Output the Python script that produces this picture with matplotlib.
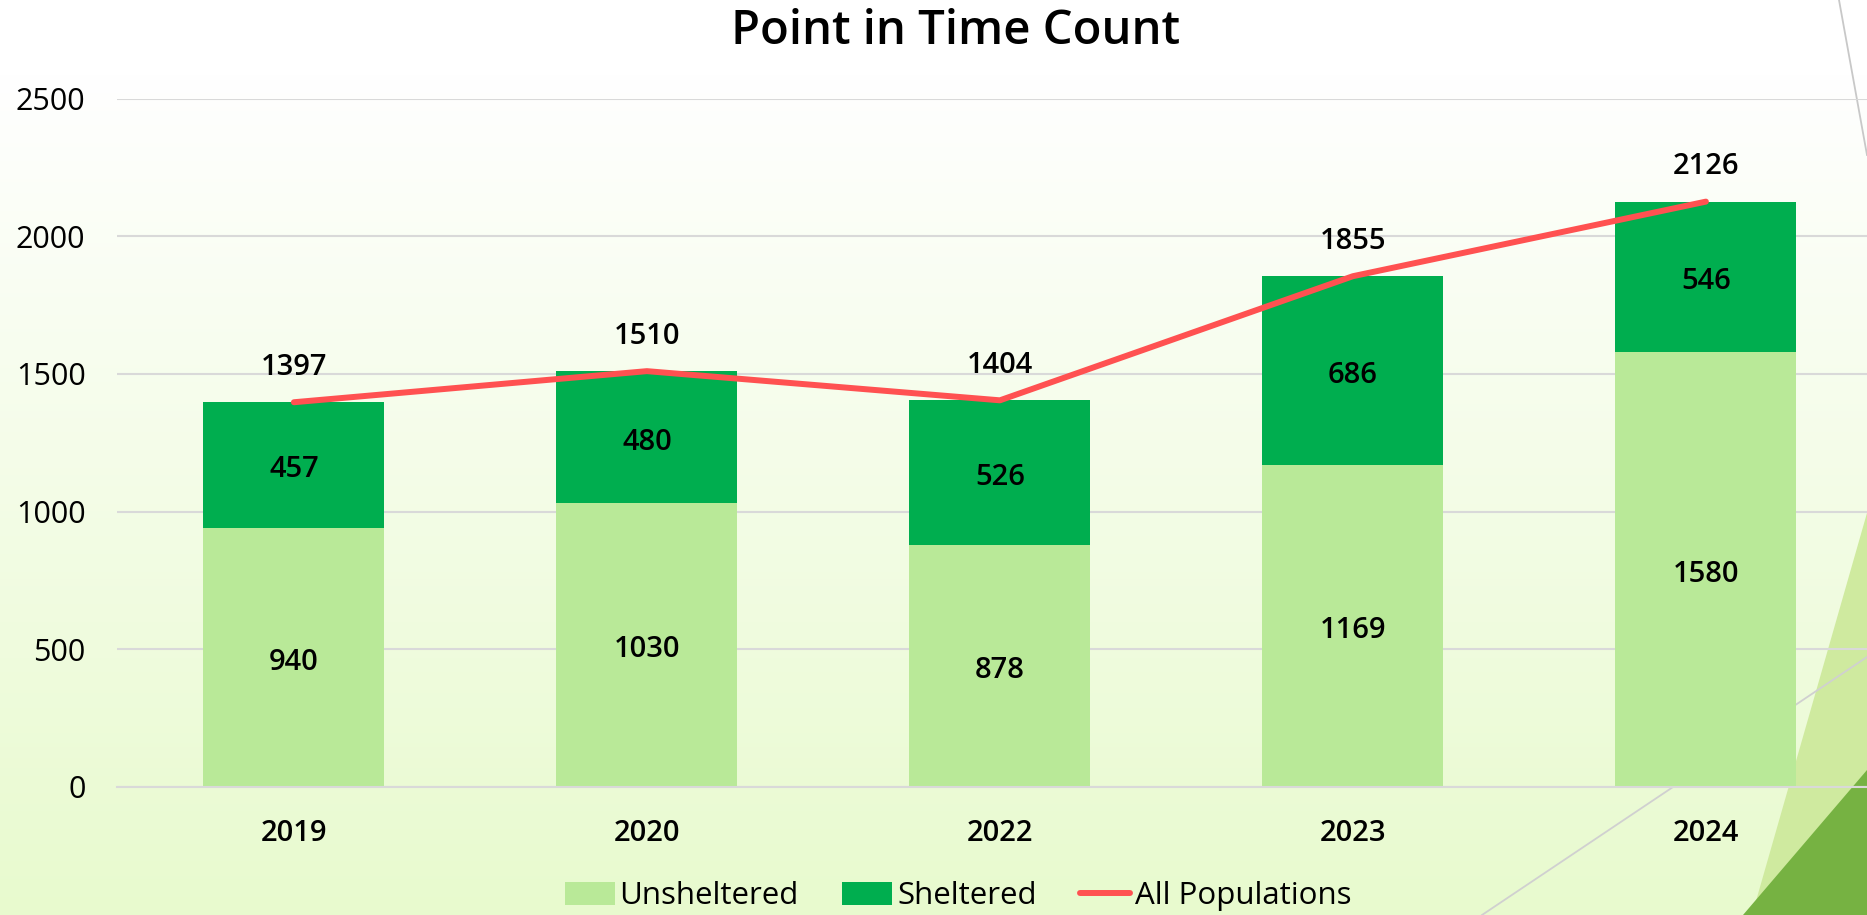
import numpy as np
import matplotlib
matplotlib.use("Agg")
import matplotlib.pyplot as plt
from matplotlib.patches import Polygon
from matplotlib.lines import Line2D

plt.rcParams['font.family'] = ['Open Sans', 'DejaVu Sans']

# data
years = ['2019', '2020', '2022', '2023', '2024']
unsheltered = [940, 1030, 878, 1169, 1580]
sheltered = [457, 480, 526, 686, 546]
all_pop = [1397, 1510, 1404, 1855, 2126]

c_unsh = '#B9E998'
c_shel = '#00AE4F'
c_line = '#FF5151'
c_grid = '#D9D9D9'

W, H = 1867, 915
fig = plt.figure(figsize=(W / 100, H / 100), dpi=100)

# background gradient + slide decoration
bg = fig.add_axes([0, 0, 1, 1], zorder=-5)
grad = np.linspace(0, 1, 256)[:, None]
top = np.array([1.0, 1.0, 1.0])
bot = np.array([0xE8, 0xFA, 0xCE]) / 255
t = np.clip((grad - 0.08) / 0.92, 0, 1)
img = (top[None, None, :] * (1 - t[..., None]) + bot[None, None, :] * t[..., None])
bg.imshow(img, aspect='auto', extent=[0, W, H, 0])
bg.add_patch(Polygon([(1752, 915), (1867, 513), (1867, 915)], closed=True,
                     color='#CFEA9F', lw=0))
bg.add_patch(Polygon([(1743, 915), (1867, 770), (1867, 915)], closed=True,
                     color='#76B242', lw=0))
bg.plot([1482, 1867], [915, 657], color='#D0D0D0', lw=1.3)
bg.plot([1839, 1867], [0, 155], color='#C8C8C8', lw=1.3)
bg.set_xlim(0, W)
bg.set_ylim(H, 0)
bg.axis('off')

# main chart
ax = fig.add_axes([117.4 / W, 1 - 786.7 / H, 1765 / W, (786.7 - 98.7) / H])
ax.set_facecolor('none')
x = np.arange(len(years))
bw = 0.513
b1 = ax.bar(x, unsheltered, bw, color=c_unsh, label='Unsheltered', zorder=2)
b2 = ax.bar(x, sheltered, bw, bottom=unsheltered, color=c_shel, label='Sheltered', zorder=2)
ln, = ax.plot(x, all_pop, color=c_line, lw=4.3, solid_capstyle='round',
              label='All Populations', zorder=3)

lbl = dict(ha='center', va='center', fontsize=21, fontweight='semibold', zorder=4,
           textcoords='offset points')
for xi, u, s, tot in zip(x, unsheltered, sheltered, all_pop):
    ax.annotate(str(u), (xi, u / 2), xytext=(0, -3.5), **lbl)
    ax.annotate(str(s), (xi, u + s / 2), xytext=(0, -3.5), **lbl)
    ax.annotate(str(tot), (xi, tot), xytext=(0, 25), **lbl)

ax.set_xlim(-0.5, 4.5)
ax.set_ylim(0, 2500)
ax.set_yticks([0, 500, 1000, 1500, 2000, 2500])
ax.set_xticks(x)
ax.set_xticklabels(years, fontsize=21, fontweight='semibold')
ax.tick_params(axis='y', length=0, pad=23, labelsize=22)
ax.tick_params(axis='x', length=0, pad=23)
ax.grid(axis='y', color=c_grid, lw=1.5)
ax.set_axisbelow(True)
for sp in ['top', 'right', 'left']:
    ax.spines[sp].set_visible(False)
ax.spines['bottom'].set_color(c_grid)
ax.spines['bottom'].set_linewidth(1.5)

fig.text(955 / W, 1 - 31 / H, 'Point in Time Count', ha='center', va='center',
         fontsize=34, fontweight='semibold')

handles = [b1, b2, Line2D([0], [0], color=c_line, lw=4.3, solid_capstyle='round')]
fig.legend(handles, ['Unsheltered', 'Sheltered', 'All Populations'],
           loc='center', bbox_to_anchor=(958 / W, 1 - 896 / H), ncol=3,
           frameon=False, fontsize=22.5, handlelength=1.6, handleheight=0.75,
           handletextpad=0.15, columnspacing=1.4)

fig.savefig('out.png', dpi=100)
